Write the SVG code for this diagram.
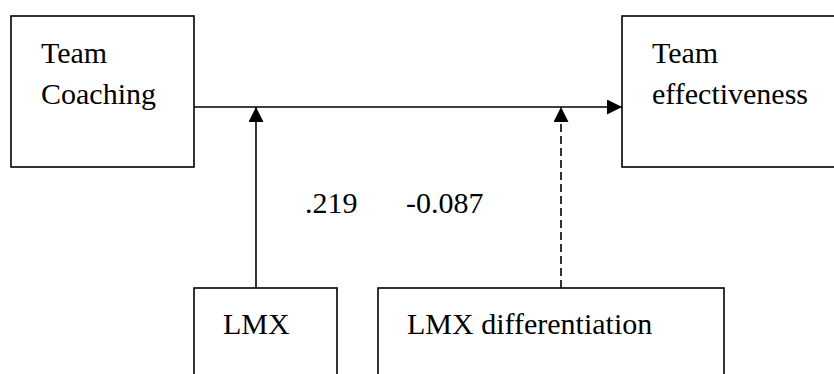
<svg xmlns="http://www.w3.org/2000/svg" width="834" height="374" viewBox="0 0 834 374">
<defs>
<style>
.box{fill:#fff;stroke:#000;stroke-width:1.6}
.t{font-family:"Liberation Serif","Times New Roman",serif;font-size:30px;fill:#000}
.ln{stroke:#000;stroke-width:1.6;fill:none}
.dash{stroke-dasharray:8,4}
</style>
<marker id="ah" markerWidth="15" markerHeight="15" refX="15" refY="7.5" orient="auto" markerUnits="userSpaceOnUse">
<path d="M0,0 L15,7.5 L0,15 Z" fill="#000"/>
</marker>
</defs>
<rect width="834" height="374" fill="#fff"/>
<g id="team-coaching">
<rect class="box" x="11" y="16" width="183" height="151"/>
<text class="t" x="41" y="63">Team</text>
<text class="t" x="41" y="104">Coaching</text>
</g>
<g id="team-effectiveness">
<rect class="box" x="622" y="16" width="230" height="151"/>
<text class="t" x="652" y="63">Team</text>
<text class="t" x="652" y="104">effectiveness</text>
</g>
<g id="lmx">
<rect class="box" x="194" y="288" width="143" height="100"/>
<text class="t" x="223" y="334">LMX</text>
</g>
<g id="lmx-differentiation">
<rect class="box" x="378" y="288" width="346" height="100"/>
<text class="t" x="407" y="334">LMX differentiation</text>
</g>
<g id="connectors">
<line class="ln" x1="194" y1="107" x2="622" y2="107" marker-end="url(#ah)"/>
<line class="ln" x1="256" y1="288" x2="256" y2="107" marker-end="url(#ah)"/>
<line class="ln dash" x1="561" y1="288" x2="561" y2="107" marker-end="url(#ah)"/>
<text class="t" x="305" y="213">.219</text>
<text class="t" x="406" y="213">-0.087</text>
</g>
</svg>
